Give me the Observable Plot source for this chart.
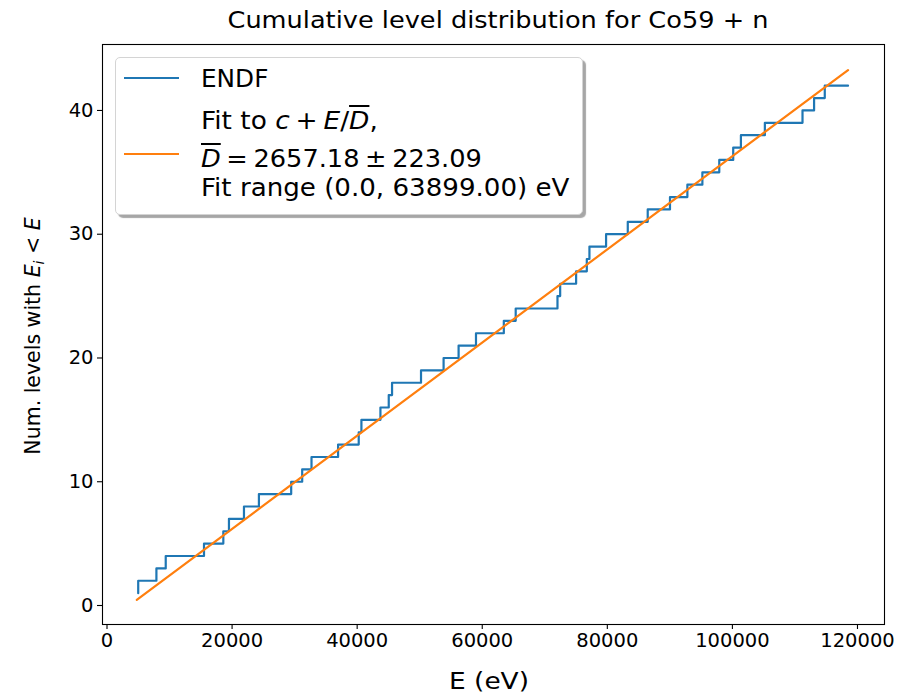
<!DOCTYPE html>
<html><head><meta charset="utf-8">
<script src="https://cdn.jsdelivr.net/npm/d3@7"></script>
<script src="https://cdn.jsdelivr.net/npm/@observablehq/plot@0.6"></script>
<style>
body{margin:0;background:#fff;font-family:"DejaVu Sans",sans-serif;}
#wrap{position:relative;width:909px;height:696px;}
#legend{position:absolute;left:115px;top:57px;width:466px;height:156px;border:1px solid #d4d4d4;border-radius:5px;background:#fff;box-shadow:3px 3px 1px rgba(0,0,0,0.35);font-size:24px;color:#000;}
.hl{position:absolute;left:8px;width:55px;height:2.2px;}
.lt{position:absolute;left:85px;white-space:nowrap;line-height:24px;transform-origin:0 50%;}
.ov{text-decoration:overline;}
.op{margin:0 0.22em;}
</style></head>
<body><div id="wrap"></div>
<script>
// ENDF cumulative level count: energy (eV) at which the count rises, and the count after it
const levelE = [4990, 4990, 7900, 9390, 15510, 18600, 19500, 21900, 24290, 29450, 31210, 32700, 36950,
  40250, 40680, 43720, 45050, 45580, 50210, 53820, 56220, 59000, 63450, 65350, 72030, 72460,
  75010, 76720, 77140, 79800, 83270, 86460, 90020, 92800, 95200, 97900, 100130, 101360,
  105190, 111210, 113060, 114770, 118490];
const levelN = [1, 2, 3, 4, 5, 6, 7, 8, 9, 10, 11, 12, 13,
  14, 15, 16, 17, 18, 19, 20, 21, 22, 23, 24, 25, 26,
  27, 28, 29, 30, 31, 32, 33, 34, 35, 36, 37, 38,
  39, 40, 41, 42, 42];
// Fit line c + E/D endpoints
const fitE = [4760, 118490];
const fitN = [0.46, 43.26];
const xTicks = [0, 20000, 40000, 60000, 80000, 100000, 120000];
const yTicks = [0, 10, 20, 30, 40];
const titleText = "Cumulative level distribution for Co59 + n";

const stepData = levelE.map((e, i) => ({E: e, N: levelN[i]}));
const fitData = fitE.map((e, i) => ({E: e, N: fitN[i]}));

const chart = Plot.plot({
  width: 909, height: 696,
  marginLeft: 102, marginRight: 25, marginTop: 44, marginBottom: 72,
  style: {fontFamily: "DejaVu Sans", fontSize: "19.5px", color: "#000", background: "#fff"},
  x: {domain: [-720, 124320], ticks: xTicks, tickFormat: d => String(d), label: null},
  y: {domain: [-1.535, 45.33], ticks: yTicks, tickFormat: d => String(d), label: null},
  marks: [
    Plot.line(stepData, {x: "E", y: "N", curve: "step-after", stroke: "#1f77b4", strokeWidth: 2.2}),
    Plot.line(fitData, {x: "E", y: "N", stroke: "#ff7f0e", strokeWidth: 2.2}),
    Plot.frame({stroke: "#000", strokeWidth: 1.1}),
    Plot.axisX({ticks: xTicks, tickFormat: d => String(d), tickSize: 5, tickPadding: 4, stroke: "#000", strokeWidth: 1.1, label: null}),
    Plot.axisY({ticks: yTicks, tickFormat: d => String(d), tickSize: 5, tickPadding: 4, stroke: "#000", strokeWidth: 1.1, label: null})
  ]
});
document.getElementById("wrap").appendChild(chart);

const svg = d3.select(chart);
svg.append("text").attr("x", 498).attr("y", 28).attr("text-anchor", "middle")
  .attr("font-size", 23).attr("fill", "#000")
  .attr("textLength", 541).attr("lengthAdjust", "spacingAndGlyphs").text(titleText);
svg.append("text").attr("x", 489).attr("y", 689).attr("text-anchor", "middle")
  .attr("font-size", 23).attr("fill", "#000")
  .attr("textLength", 80).attr("lengthAdjust", "spacingAndGlyphs").text("E (eV)");
const yl = svg.append("text").attr("transform", "translate(40,336) rotate(-90)")
  .attr("text-anchor", "middle").attr("font-size", 20.5).attr("fill", "#000");
yl.append("tspan").text("Num. levels with ");
yl.append("tspan").attr("font-style", "italic").text("E");
yl.append("tspan").attr("font-style", "italic").attr("font-size", 14).attr("dy", 4).text("i");
yl.append("tspan").attr("dy", -4).text(" < ");
yl.append("tspan").attr("font-style", "italic").text("E");

const leg = d3.select("#wrap").append("div").attr("id", "legend");
leg.append("div").attr("class", "hl").style("top", "19px").style("background", "#1f77b4");
leg.append("div").attr("class", "hl").style("top", "95px").style("background", "#ff7f0e");
leg.append("div").attr("class", "lt").style("top", "9px").style("transform", "scaleX(1.03)").text("ENDF");
leg.append("div").attr("class", "lt").style("top", "51px").style("transform", "scaleX(1.10)")
  .html('Fit to <i>c</i><span class="op">+</span><i>E</i>/<span class="ov"><i>D</i></span>,');
leg.append("div").attr("class", "lt").style("top", "89px").style("transform", "scaleX(1.068)")
  .html('<span class="ov"><i>D</i></span><span class="op">=</span>2657.18<span class="op">±</span>223.09');
leg.append("div").attr("class", "lt").style("top", "118px").style("transform", "scaleX(1.088)").text("Fit range (0.0, 63899.00) eV");
</script></body></html>
